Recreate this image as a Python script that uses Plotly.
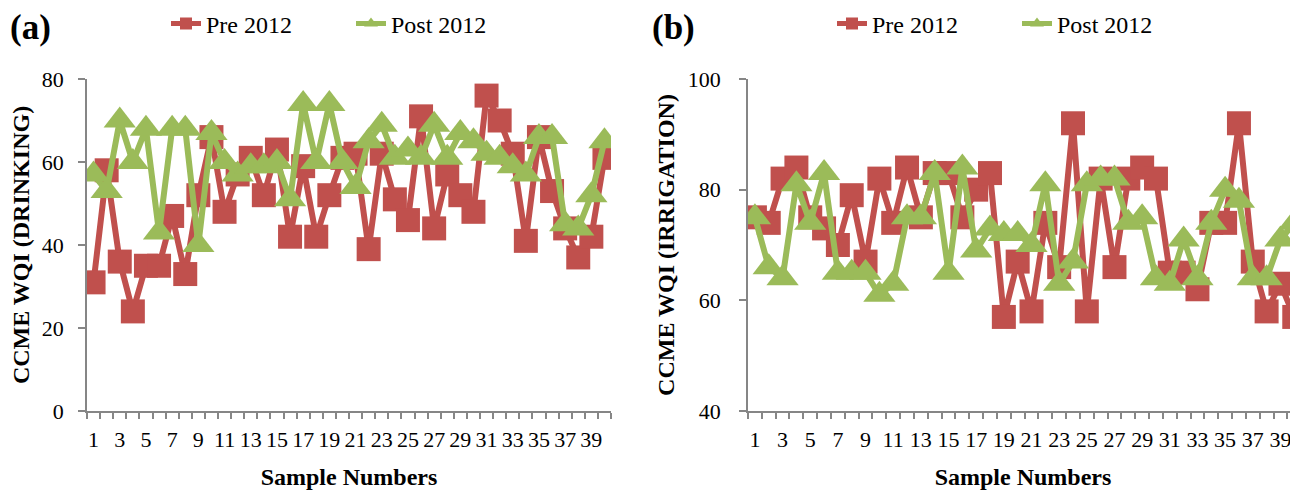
import plotly.graph_objects as go

samples = list(range(1, 41))
tick_vals = list(range(1, 40, 2))
tick_text = [str(v) for v in tick_vals]

pre_drinking = [31, 58, 36, 24, 35, 35, 47, 33, 52, 66, 48, 57, 61, 52, 63, 42, 59, 42, 52, 61,
                62, 39, 62, 51, 46, 71, 44, 57, 52, 48, 76, 70, 62, 41, 66, 53, 44, 37, 42, 61]
post_drinking = [57, 53, 70, 60, 68, 43, 68, 68, 40, 67, 60, 57, 59, 59, 60, 51, 74, 60, 74, 60,
                 54, 65, 69, 61, 63, 61, 69, 61, 67, 65, 62, 61, 59, 57, 66, 66, 45, 44, 52, 65]
pre_irrigation = [75, 74, 82, 84, 75, 73, 70, 79, 67, 82, 74, 84, 75, 83, 83, 75, 80, 83, 57, 67,
                  58, 74, 66, 92, 58, 82, 66, 82, 84, 82, 65, 65, 62, 74, 74, 92, 67, 58, 63, 57]
post_irrigation = [75, 66, 64, 81, 74, 83, 65, 65, 65, 61, 63, 75, 75, 83, 65, 84, 69, 73, 72, 72,
                   70, 81, 63, 67, 81, 82, 82, 74, 75, 64, 63, 71, 64, 74, 80, 78, 64, 64, 71, 74]

RED = "#C0504D"
GREEN = "#9BBB59"
AXIS = "#868686"
FONT = "Liberation Serif"
W, H = 1290, 482   # page body adds an 8px margin

fig = go.Figure()

def add_series(x_axis, y_axis, legend, pre, post):
    fig.add_trace(go.Scatter(
        x=samples, y=pre, name="Pre 2012", mode="lines+markers",
        xaxis=x_axis, yaxis=y_axis, legend=legend,
        line=dict(color=RED, width=6),
        marker=dict(symbol="square", size=24, color=RED)))
    fig.add_trace(go.Scatter(
        x=samples, y=post, name="Post 2012", mode="lines+markers",
        xaxis=x_axis, yaxis=y_axis, legend=legend,
        line=dict(color=GREEN, width=6),
        marker=dict(symbol="triangle-up", size=28, color=GREEN)))

add_series("x", "y", "legend", pre_drinking, post_drinking)
add_series("x2", "y2", "legend2", pre_irrigation, post_irrigation)

def xaxis(domain, rng, anchor):
    return dict(
        domain=domain, range=rng, anchor=anchor,
        tickmode="array", tickvals=tick_vals, ticktext=tick_text, ticks="",
        showline=True, linecolor=AXIS, linewidth=1.5, showgrid=False, zeroline=False,
        minor=dict(tickmode="linear", tick0=0.5, dtick=1, ticks="outside", ticklen=6,
                   tickcolor=AXIS, tickwidth=1.5, showgrid=False),
        tickfont=dict(family=FONT, size=22, color="black"),
        ticklabelstandoff=8,
        title=dict(text="Sample Numbers", standoff=17,
                   font=dict(family=FONT, size=24, color="black", weight="bold")),
        automargin=False)

def yaxis(domain, rng, anchor, title, standoff_lbl, standoff_title):
    return dict(
        domain=domain, range=rng, anchor=anchor, tick0=0, dtick=20,
        ticks="outside", ticklen=7, tickcolor=AXIS, tickwidth=1.5,
        showline=True, linecolor=AXIS, linewidth=1.5, showgrid=False, zeroline=False,
        tickfont=dict(family=FONT, size=22, color="black"),
        ticklabelstandoff=standoff_lbl,
        title=dict(text=title, standoff=standoff_title,
                   font=dict(family=FONT, size=24, color="black", weight="bold")),
        automargin=False)

def legend_box(x_px):
    return dict(orientation="h", xref="container", yref="container",
                x=x_px / W, xanchor="left", y=1 - 16 / H, yanchor="middle",
                font=dict(family=FONT, size=24, color="black"), bgcolor="rgba(0,0,0,0)",
                itemsizing="constant", entrywidth=140, entrywidthmode="pixels")

ydom = [(H - 403) / H, (H - 71) / H]
fig.update_layout(
    width=W, height=H,
    margin=dict(l=0, r=0, t=0, b=0, autoexpand=False),
    paper_bgcolor="white", plot_bgcolor="white",
    font=dict(family=FONT, color="black"),
    xaxis=xaxis([79 / W, 603 / W], [0.5, 40.5], "y"),
    yaxis=yaxis(ydom, [0, 80], "x", "CCME WQI (DRINKING)", 10, 10),
    xaxis2=xaxis([740 / W, 1.0], [0.5, 40.27], "y2"),
    yaxis2=yaxis(ydom, [40, 100], "x2", "CCME WQI (IRRIGATION)", 14, 6),
    legend=legend_box(158),
    legend2=legend_box(824),
    annotations=[
        dict(text="(a)", x=0, y=1 - 20 / H, xref="paper", yref="paper",
             xanchor="left", yanchor="middle", showarrow=False,
             font=dict(family=FONT, size=35, color="black", weight="bold")),
        dict(text="(b)", x=642 / W, y=1 - 20 / H, xref="paper", yref="paper",
             xanchor="left", yanchor="middle", showarrow=False,
             font=dict(family=FONT, size=35, color="black", weight="bold")),
    ],
)

fig.write_html("out.html")
